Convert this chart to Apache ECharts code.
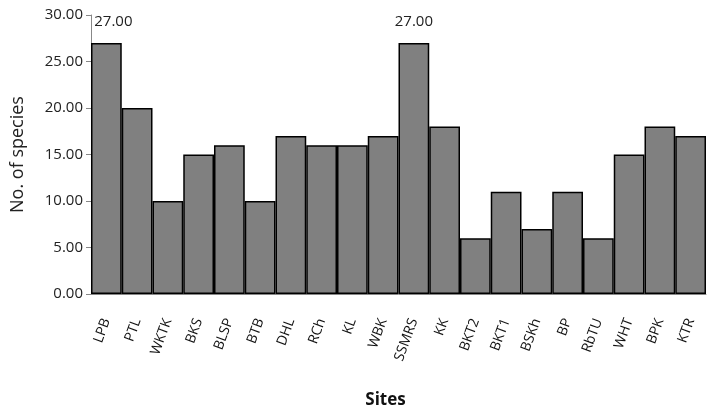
<!DOCTYPE html>
<html><head><meta charset="utf-8">
<script src="https://cdn.jsdelivr.net/npm/echarts@6/dist/echarts.min.js"></script>
<style>html,body{margin:0;padding:0;background:#fff}#c{width:708px;height:416px}</style>
</head><body><div id="c"></div>
<script>
var sites = ['LPB','PTL','WKTK','BKS','BLSP','BTB','DHL','RCh','KL','WBK','SSMRS','KK','BKT2','BKT1','BSKh','BP','RbTU','WHT','BPK','KTR'];
var species = [27,20,10,15,16,10,17,16,16,17,27,18,6,11,7,11,6,15,18,17];
var yTicks = [0,5,10,15,20,25,30];
var labelledValue = 27;

var chart = echarts.init(document.getElementById('c'), null, {renderer:'canvas'});
var fontFam = '"Open Sans", "Liberation Sans", sans-serif';
var barData = species.map(function(v, i){
  var d = {value:v};
  if (i === 0) d.label = {offset:[7,0]};
  return d;
});
chart.setOption({
  animation:false,
  grid:{left:91,right:2,top:15,bottom:122,containLabel:false,outerBoundsMode:'none'},
  xAxis:{
    type:'category', data:sites, name:'Sites', nameLocation:'middle', nameGap:98,
    nameTextStyle:{fontFamily:fontFam,fontSize:17,fontWeight:'bold',color:'#111',padding:[0,26,0,0]},
    axisLine:{lineStyle:{color:'#888',width:1}},
    axisTick:{show:false},
    axisLabel:{rotate:70,interval:0,fontFamily:fontFam,fontSize:14,color:'#111',margin:25}
  },
  yAxis:{
    type:'value', min:yTicks[0], max:yTicks[yTicks.length-1], interval:5,
    name:'No. of species', nameLocation:'middle', nameGap:64,
    nameTextStyle:{fontFamily:fontFam,fontSize:18,color:'#222'},
    axisLine:{show:true,lineStyle:{color:'#888',width:1}},
    axisTick:{show:true,length:5,lineStyle:{color:'#888'}},
    splitLine:{show:false},
    axisLabel:{fontFamily:fontFam,fontSize:15,color:'#222',margin:8,formatter:function(v){return v.toFixed(2);}}
  },
  series:[{
    type:'bar', data:barData, barCategoryGap:'0%',
    itemStyle:{color:'#808080',borderColor:'#000',borderWidth:1.5},
    label:{show:true,position:'top',distance:14,fontFamily:fontFam,fontSize:15,color:'#222',
      formatter:function(p){return p.value===labelledValue? p.value.toFixed(2):'';}}
  }]
});
</script></body></html>
